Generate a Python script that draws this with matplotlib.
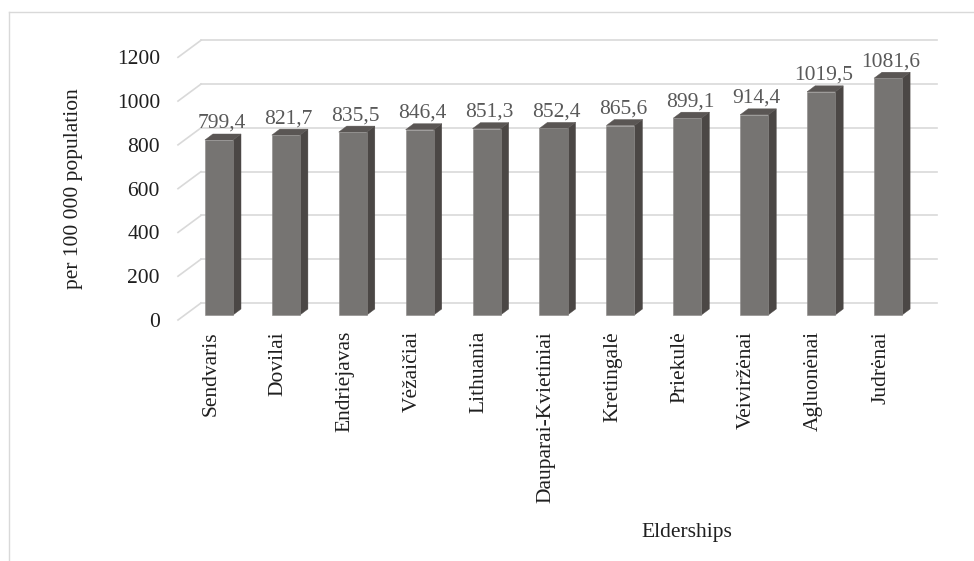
import matplotlib.pyplot as plt
from matplotlib.patches import Polygon
from matplotlib.lines import Line2D
import numpy as np

plt.rcParams['font.family'] = ['Liberation Serif', 'DejaVu Serif']

# Data
elderships = ['Sendvaris', 'Dovilai', 'Endriejavas', 'Vėžaičiai', 'Lithuania',
              'Dauparai-Kvietiniai', 'Kretingalė', 'Priekulė', 'Veiviržėnai',
              'Agluonėnai', 'Judrėnai']
rates = [799.4, 821.7, 835.5, 846.4, 851.3, 852.4, 865.6, 899.1, 914.4, 1019.5, 1081.6]
yticks = [0, 200, 400, 600, 800, 1000, 1200]

front_col = '#767472'
side_col = '#4b4745'
top_col = '#5a5654'
grid_col = '#d9d9d9'
fs = 15.5

fig = plt.figure(figsize=(9.74, 5.61), dpi=100)
ax_left, ax_bottom, ax_w, ax_h = 178 / 974, 241 / 561, 736 / 974, 262.7 / 561
ax = fig.add_axes([ax_left, ax_bottom, ax_w, ax_h])
ax.set_xlim(-0.5, 10.5)
ax.set_ylim(0, 1200)

# pixel -> data conversion for the fake 3D depth
sx = 11 / (ax_w * 974)
sy = 1200 / (ax_h * 561)
bar_dx, bar_dy = 7.5 * sx, 5 * sy
depth_dx, depth_dy = 8 * sx, 6 * sy
wall_dx, wall_dy = 23 * sx, 17 * sy
w = 0.42

# back wall gridlines + side-wall diagonals
for t in yticks:
    ax.plot([-0.5 + wall_dx, 10.5 + wall_dx], [t + wall_dy] * 2, color=grid_col,
            lw=1.2, clip_on=False, zorder=1)
    ax.plot([-0.5, -0.5 + wall_dx], [t, t + wall_dy], color=grid_col,
            lw=1.2, clip_on=False, zorder=1)

x = np.arange(len(elderships))
ax.bar(x + bar_dx, rates, width=w, bottom=bar_dy, color=front_col,
       edgecolor='#8a8886', linewidth=0.4, zorder=3)

for xi, v in zip(x, rates):
    xr = xi + bar_dx + w / 2
    xl = xi + bar_dx - w / 2
    yb, yt = bar_dy, bar_dy + v
    side = Polygon([(xr, yb), (xr, yt), (xr + depth_dx, yt + depth_dy),
                    (xr + depth_dx, yb + depth_dy)], closed=True,
                   facecolor=side_col, edgecolor=side_col, lw=0.3, zorder=2, clip_on=False)
    top = Polygon([(xl, yt), (xr, yt), (xr + depth_dx, yt + depth_dy),
                   (xl + depth_dx, yt + depth_dy)], closed=True,
                  facecolor=top_col, edgecolor=top_col, lw=0.3, zorder=2, clip_on=False)
    ax.add_patch(side)
    ax.add_patch(top)
    ax.text(xi + bar_dx + 2.5 * sx, yt + 12 * sy, f'{v:.1f}'.replace('.', ','),
            ha='center', va='baseline', fontsize=fs, color='#595959', clip_on=False)

ax.set_xticks(x)
ax.set_xticklabels(elderships, rotation=90, fontsize=fs, color='#1f1f1f')
ax.set_yticks(yticks)
ax.set_yticklabels([str(t) for t in yticks], fontsize=fs, color='#1f1f1f')
ax.tick_params(axis='both', length=0)
ax.tick_params(axis='y', pad=13)
ax.tick_params(axis='x', pad=8)
for s in ax.spines.values():
    s.set_visible(False)
ax.patch.set_alpha(0)

ax.set_ylabel('per 100 000 population', fontsize=fs, color='#1f1f1f')
ax.yaxis.set_label_coords(-0.129, 0.5)
ax.set_xlabel('Elderships', fontsize=fs, color='#1f1f1f')
ax.xaxis.set_label_coords(0.6916, -0.773)

# chart frame (only top and left edges fall inside the image)
fig.add_artist(Line2D([9 / 974, 1.0], [1 - 11.5 / 561] * 2, color=grid_col, lw=1.0))
fig.add_artist(Line2D([9 / 974] * 2, [0, 1 - 11.5 / 561], color=grid_col, lw=1.0))

fig.savefig('out.png', dpi=100)
